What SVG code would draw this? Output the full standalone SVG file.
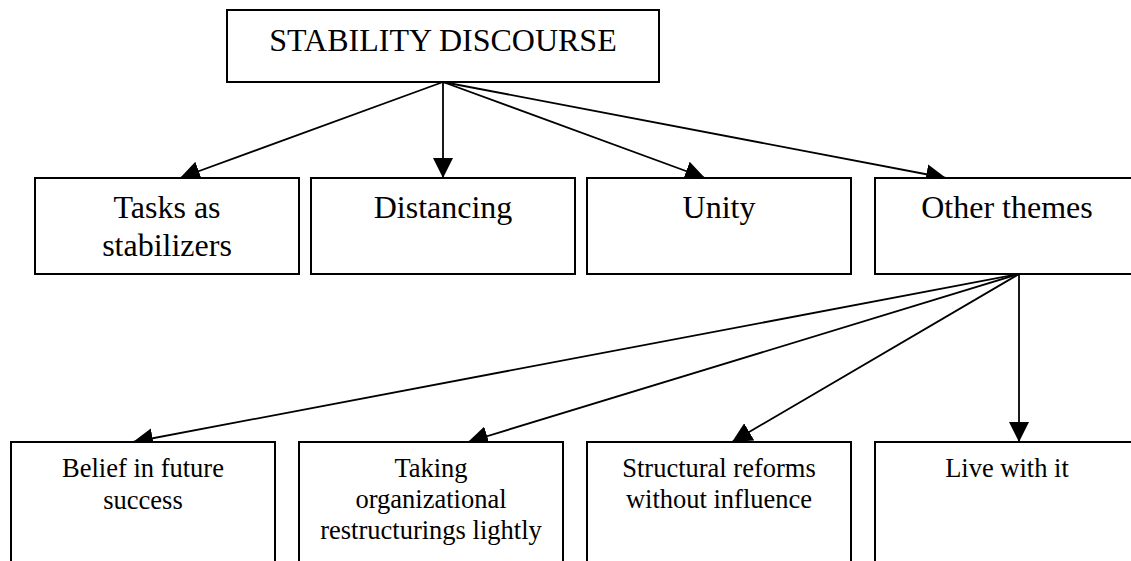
<svg xmlns="http://www.w3.org/2000/svg" width="1131" height="561" viewBox="0 0 1131 561">
  <style>
    .box { fill: #ffffff; stroke: #000000; stroke-width: 2; }
    .edge { fill: none; stroke: #000000; stroke-width: 1.8; marker-end: url(#arrow); }
    text { font-family: "Liberation Serif", "Times New Roman", serif; fill: #000000; text-anchor: middle; }
    .t1 { font-size: 32px; }
    .t2 { font-size: 26.5px; }
  </style>
  <defs>
    <marker id="arrow" markerUnits="userSpaceOnUse" markerWidth="20" markerHeight="20" refX="20" refY="10" orient="auto">
      <path d="M0,0 L20,10 L0,20 Z" fill="#000000"/>
    </marker>
  </defs>
  <rect width="1131" height="561" fill="#ffffff"/>

  <!-- connectors -->
  <g id="connectors">
    <line class="edge" x1="443" y1="82" x2="180" y2="178"/>
    <line class="edge" x1="443" y1="82" x2="443" y2="178"/>
    <line class="edge" x1="443" y1="82" x2="705" y2="178"/>
    <line class="edge" x1="443" y1="82" x2="946" y2="178"/>
    <line class="edge" x1="1019" y1="274" x2="133" y2="442"/>
    <line class="edge" x1="1019" y1="274" x2="468" y2="442"/>
    <line class="edge" x1="1019" y1="274" x2="732" y2="442"/>
    <line class="edge" x1="1019" y1="274" x2="1019" y2="442"/>
  </g>

  <!-- root -->
  <g id="stability-discourse">
    <rect class="box" x="227" y="10" width="432" height="72"/>
    <text class="t1" x="443" y="51">STABILITY DISCOURSE</text>
  </g>

  <!-- second level -->
  <g id="tasks-as-stabilizers">
    <rect class="box" x="35" y="178" width="264" height="96"/>
    <text class="t1" x="167" y="218">Tasks as</text>
    <text class="t1" x="167" y="256">stabilizers</text>
  </g>
  <g id="distancing">
    <rect class="box" x="311" y="178" width="264" height="96"/>
    <text class="t1" x="443" y="218">Distancing</text>
  </g>
  <g id="unity">
    <rect class="box" x="587" y="178" width="264" height="96"/>
    <text class="t1" x="719" y="218">Unity</text>
  </g>
  <g id="other-themes">
    <rect class="box" x="875" y="178" width="264" height="96"/>
    <text class="t1" x="1007" y="218">Other themes</text>
  </g>

  <!-- third level -->
  <g id="belief-in-future-success">
    <rect class="box" x="11" y="442" width="264" height="160"/>
    <text class="t2" x="143" y="477">Belief in future</text>
    <text class="t2" x="143" y="509">success</text>
  </g>
  <g id="taking-restructurings-lightly">
    <rect class="box" x="299" y="442" width="264" height="160"/>
    <text class="t2" x="431" y="477">Taking</text>
    <text class="t2" x="431" y="508">organizational</text>
    <text class="t2" x="431" y="539">restructurings lightly</text>
  </g>
  <g id="structural-reforms">
    <rect class="box" x="587" y="442" width="264" height="160"/>
    <text class="t2" x="719" y="477">Structural reforms</text>
    <text class="t2" x="719" y="508">without influence</text>
  </g>
  <g id="live-with-it">
    <rect class="box" x="875" y="442" width="264" height="160"/>
    <text class="t2" x="1007" y="477">Live with it</text>
  </g>
</svg>
